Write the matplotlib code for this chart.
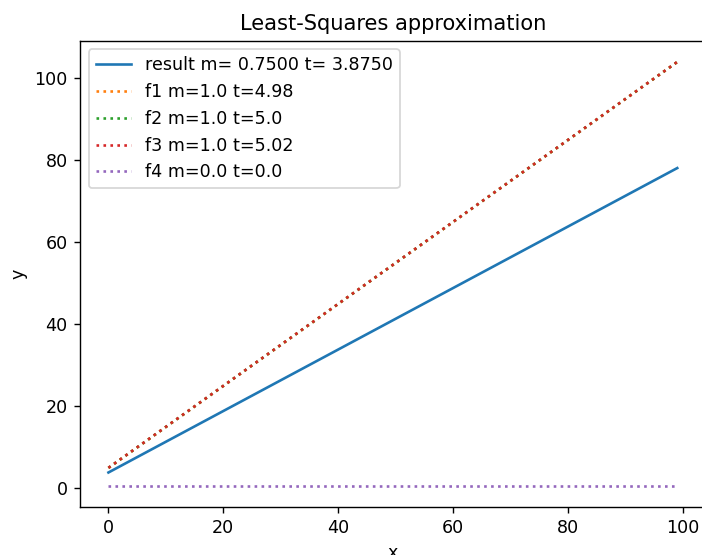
import numpy as np
import matplotlib.pyplot as plt

# sample positions and line parameters (y = m*x + t)
x = np.arange(100)
slopes = [0.75, 1.0, 1.0, 1.0, 0.0]
intercepts = [3.875, 4.98, 5.0, 5.02, 0.7]
labels = ["result m= 0.7500 t= 3.8750",
          "f1 m=1.0 t=4.98",
          "f2 m=1.0 t=5.0",
          "f3 m=1.0 t=5.02",
          "f4 m=0.0 t=0.0"]
styles = ["-", ":", ":", ":", ":"]

dpi = 126
fig = plt.figure(figsize=(702 / dpi, 555 / dpi), dpi=dpi)
ax = fig.add_axes([80 / 702, 48.3 / 555, 625.7 / 702, 466 / 555])

for m, t, lab, ls in zip(slopes, intercepts, labels, styles):
    ax.plot(x, m * x + t, ls, label=lab)

ax.set_title("Least-Squares approximation")
ax.set_xlabel("x")
ax.set_ylabel("y")
ax.legend(loc="upper left")
# right edge of the axes sits past the canvas
ax.spines["right"].set_visible(False)

fig.savefig("out.png", dpi=dpi)
